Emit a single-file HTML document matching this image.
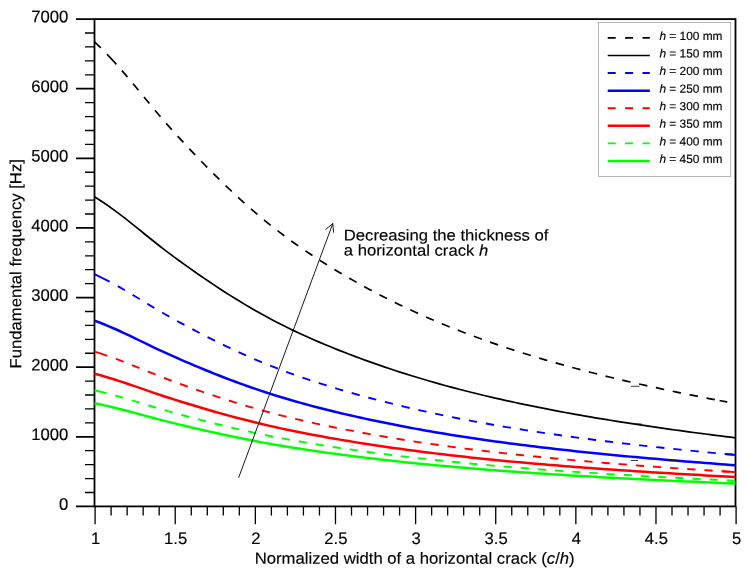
<!DOCTYPE html>
<html><head><meta charset="utf-8"><title>Fundamental frequency vs normalized crack width</title>
<style>html,body{margin:0;padding:0;background:#fff}svg{display:block}text{font-family:"Liberation Sans",Arial,sans-serif;fill:#000;text-rendering:geometricPrecision;stroke:#000;stroke-width:0.15px}.i{font-style:italic}</style></head><body>
<svg width="747" height="575" viewBox="0 0 747 575">
<rect width="747" height="575" fill="#fff"/>
<g stroke="#000" stroke-width="1.8" fill="none" stroke-linecap="butt">
<rect x="94.50" y="19.10" width="641.00" height="487.30"/>
<path d="M76 506.40 H94.50M76 436.79 H94.50M76 367.17 H94.50M76 297.56 H94.50M76 227.94 H94.50M76 158.33 H94.50M76 88.71 H94.50M76 19.10 H94.50"/>
</g>
<g stroke="#000" stroke-width="1.3" fill="none" stroke-linecap="butt">
<path d="M85 492.48 H94.50M85 478.55 H94.50M85 464.63 H94.50M85 450.71 H94.50M85 422.86 H94.50M85 408.94 H94.50M85 395.02 H94.50M85 381.09 H94.50M85 353.25 H94.50M85 339.33 H94.50M85 325.40 H94.50M85 311.48 H94.50M85 283.63 H94.50M85 269.71 H94.50M85 255.79 H94.50M85 241.87 H94.50M85 214.02 H94.50M85 200.10 H94.50M85 186.17 H94.50M85 172.25 H94.50M85 144.41 H94.50M85 130.48 H94.50M85 116.56 H94.50M85 102.64 H94.50M85 74.79 H94.50M85 60.87 H94.50M85 46.95 H94.50M85 33.02 H94.50M95.10 506.40 V524.20M111.12 506.40 V515.60M127.15 506.40 V515.60M143.18 506.40 V515.60M159.20 506.40 V515.60M175.22 506.40 V524.20M191.25 506.40 V515.60M207.28 506.40 V515.60M223.30 506.40 V515.60M239.32 506.40 V515.60M255.35 506.40 V524.20M271.38 506.40 V515.60M287.40 506.40 V515.60M303.42 506.40 V515.60M319.45 506.40 V515.60M335.48 506.40 V524.20M351.50 506.40 V515.60M367.53 506.40 V515.60M383.55 506.40 V515.60M399.58 506.40 V515.60M415.60 506.40 V524.20M431.63 506.40 V515.60M447.65 506.40 V515.60M463.68 506.40 V515.60M479.70 506.40 V515.60M495.73 506.40 V524.20M511.75 506.40 V515.60M527.77 506.40 V515.60M543.80 506.40 V515.60M559.83 506.40 V515.60M575.85 506.40 V524.20M591.87 506.40 V515.60M607.90 506.40 V515.60M623.93 506.40 V515.60M639.95 506.40 V515.60M655.98 506.40 V524.20M672.00 506.40 V515.60M688.03 506.40 V515.60M704.05 506.40 V515.60M720.08 506.40 V515.60M736.10 506.40 V524.20"/>
</g>
<g fill="none" stroke-linejoin="round">
<path d="M94.50 403.18 L99.51 404.24 L104.52 405.35 L109.52 406.51 L114.53 407.71 L119.54 408.95 L124.55 410.23 L129.55 411.55 L134.56 412.88 L139.57 414.23 L144.58 415.59 L149.59 416.94 L154.59 418.27 L159.60 419.59 L164.61 420.88 L169.62 422.14 L174.62 423.38 L179.63 424.60 L184.64 425.81 L189.65 426.99 L194.66 428.17 L199.66 429.33 L204.67 430.48 L209.68 431.61 L214.69 432.73 L219.70 433.83 L224.70 434.91 L229.71 435.97 L234.72 437.02 L239.73 438.05 L244.73 439.05 L249.74 440.04 L254.75 441.01 L259.76 441.95 L264.77 442.87 L269.77 443.77 L274.78 444.65 L279.79 445.51 L284.80 446.35 L289.80 447.17 L294.81 447.97 L299.82 448.75 L304.83 449.52 L309.84 450.27 L314.84 451.00 L319.85 451.72 L324.86 452.43 L329.87 453.12 L334.88 453.80 L339.88 454.47 L344.89 455.12 L349.90 455.76 L354.91 456.40 L359.91 457.02 L364.92 457.63 L369.93 458.23 L374.94 458.82 L379.95 459.40 L384.95 459.97 L389.96 460.53 L394.97 461.08 L399.98 461.62 L404.98 462.16 L409.99 462.68 L415.00 463.19 L420.01 463.70 L425.02 464.20 L430.02 464.68 L435.03 465.16 L440.04 465.63 L445.05 466.09 L450.05 466.55 L455.06 466.99 L460.07 467.43 L465.08 467.86 L470.09 468.28 L475.09 468.70 L480.10 469.11 L485.11 469.51 L490.12 469.90 L495.12 470.29 L500.13 470.67 L505.14 471.04 L510.15 471.41 L515.16 471.77 L520.16 472.13 L525.17 472.48 L530.18 472.83 L535.19 473.16 L540.20 473.50 L545.20 473.83 L550.21 474.15 L555.22 474.47 L560.23 474.79 L565.23 475.10 L570.24 475.40 L575.25 475.70 L580.26 476.00 L585.27 476.29 L590.27 476.58 L595.28 476.86 L600.29 477.14 L605.30 477.42 L610.30 477.69 L615.31 477.96 L620.32 478.23 L625.33 478.49 L630.34 478.75 L635.34 479.00 L640.35 479.25 L645.36 479.50 L650.37 479.75 L655.38 479.99 L660.38 480.23 L665.39 480.47 L670.40 480.71 L675.41 480.94 L680.41 481.17 L685.42 481.39 L690.43 481.62 L695.44 481.84 L700.45 482.06 L705.45 482.28 L710.46 482.49 L715.47 482.71 L720.48 482.92 L725.48 483.13 L730.49 483.33 L735.50 483.54" stroke="#0f0" stroke-width="2.5"/>
<path d="M94.50 390.28 L99.51 391.47 L104.52 392.72 L109.52 394.02 L114.53 395.37 L119.54 396.77 L124.55 398.21 L129.55 399.69 L134.56 401.19 L139.57 402.71 L144.58 404.24 L149.59 405.76 L154.59 407.26 L159.60 408.74 L164.61 410.18 L169.62 411.61 L174.62 413.00 L179.63 414.38 L184.64 415.73 L189.65 417.07 L194.66 418.39 L199.66 419.70 L204.67 420.99 L209.68 422.26 L214.69 423.52 L219.70 424.76 L224.70 425.97 L229.71 427.17 L234.72 428.35 L239.73 429.50 L244.73 430.64 L249.74 431.75 L254.75 432.83 L259.76 433.89 L264.77 434.93 L269.77 435.95 L274.78 436.93 L279.79 437.90 L284.80 438.84 L289.80 439.77 L294.81 440.67 L299.82 441.55 L304.83 442.41 L309.84 443.25 L314.84 444.08 L319.85 444.89 L324.86 445.68 L329.87 446.46 L334.88 447.22 L339.88 447.97 L344.89 448.71 L349.90 449.43 L354.91 450.14 L359.91 450.84 L364.92 451.53 L369.93 452.21 L374.94 452.87 L379.95 453.52 L384.95 454.17 L389.96 454.80 L394.97 455.42 L399.98 456.03 L404.98 456.63 L409.99 457.22 L415.00 457.79 L420.01 458.36 L425.02 458.92 L430.02 459.47 L435.03 460.01 L440.04 460.54 L445.05 461.06 L450.05 461.57 L455.06 462.07 L460.07 462.56 L465.08 463.04 L470.09 463.52 L475.09 463.98 L480.10 464.44 L485.11 464.89 L490.12 465.34 L495.12 465.77 L500.13 466.20 L505.14 466.62 L510.15 467.04 L515.16 467.44 L520.16 467.85 L525.17 468.24 L530.18 468.63 L535.19 469.01 L540.20 469.39 L545.20 469.76 L550.21 470.12 L555.22 470.48 L560.23 470.83 L565.23 471.18 L570.24 471.53 L575.25 471.86 L580.26 472.20 L585.27 472.53 L590.27 472.85 L595.28 473.17 L600.29 473.49 L605.30 473.80 L610.30 474.10 L615.31 474.41 L620.32 474.70 L625.33 475.00 L630.34 475.29 L635.34 475.58 L640.35 475.86 L645.36 476.14 L650.37 476.42 L655.38 476.69 L660.38 476.96 L665.39 477.23 L670.40 477.49 L675.41 477.75 L680.41 478.01 L685.42 478.27 L690.43 478.52 L695.44 478.77 L700.45 479.02 L705.45 479.26 L710.46 479.50 L715.47 479.74 L720.48 479.98 L725.48 480.22 L730.49 480.45 L735.50 480.68" stroke="#0f0" stroke-width="1.9" stroke-dasharray="12.4 8.95 8.3 8.905 8.3 8.905 8.3 8.905 8.3 8.905 8.3 8.905 8.3 8.905 8.3 8.905 8.3 8.905 8.3 8.905 8.3 8.905 8.3 8.905 8.3 8.905 8.3 8.905 8.3 8.905 8.3 8.905 8.3 8.905 8.3 8.905 8.3 8.905 8.3 8.905 8.3 8.905 8.3 8.905 8.3 8.905 8.3 8.905 8.3 8.905 8.3 8.905 8.3 8.905 8.3 8.905 8.3 8.905 8.3 8.905 8.3 8.905 8.3 8.905 8.3 8.905 8.3 8.905 8.3 8.905 8.3 8.905 8.3 8.905 8.3 8.905 8.3 8.905 8.3 8.905 8.3 8.905 8.3 8.905 8.3 8.905 8.3 8.905 8.3 8.905 8.3 8.905"/>
<path d="M94.50 373.69 L99.51 375.05 L104.52 376.48 L109.52 377.97 L114.53 379.51 L119.54 381.11 L124.55 382.76 L129.55 384.45 L134.56 386.17 L139.57 387.90 L144.58 389.64 L149.59 391.38 L154.59 393.10 L159.60 394.78 L164.61 396.44 L169.62 398.06 L174.62 399.66 L179.63 401.23 L184.64 402.78 L189.65 404.31 L194.66 405.82 L199.66 407.31 L204.67 408.79 L209.68 410.24 L214.69 411.68 L219.70 413.09 L224.70 414.48 L229.71 415.85 L234.72 417.20 L239.73 418.52 L244.73 419.81 L249.74 421.08 L254.75 422.32 L259.76 423.54 L264.77 424.72 L269.77 425.88 L274.78 427.01 L279.79 428.11 L284.80 429.19 L289.80 430.25 L294.81 431.28 L299.82 432.28 L304.83 433.27 L309.84 434.23 L314.84 435.18 L319.85 436.10 L324.86 437.01 L329.87 437.90 L334.88 438.77 L339.88 439.63 L344.89 440.47 L349.90 441.30 L354.91 442.11 L359.91 442.91 L364.92 443.69 L369.93 444.47 L374.94 445.22 L379.95 445.97 L384.95 446.70 L389.96 447.43 L394.97 448.14 L399.98 448.83 L404.98 449.52 L409.99 450.19 L415.00 450.85 L420.01 451.50 L425.02 452.14 L430.02 452.76 L435.03 453.38 L440.04 453.98 L445.05 454.58 L450.05 455.16 L455.06 455.73 L460.07 456.30 L465.08 456.85 L470.09 457.39 L475.09 457.93 L480.10 458.45 L485.11 458.96 L490.12 459.47 L495.12 459.97 L500.13 460.46 L505.14 460.94 L510.15 461.41 L515.16 461.88 L520.16 462.34 L525.17 462.79 L530.18 463.23 L535.19 463.67 L540.20 464.10 L545.20 464.52 L550.21 464.94 L555.22 465.35 L560.23 465.75 L565.23 466.15 L570.24 466.54 L575.25 466.93 L580.26 467.31 L585.27 467.69 L590.27 468.06 L595.28 468.42 L600.29 468.78 L605.30 469.14 L610.30 469.49 L615.31 469.84 L620.32 470.18 L625.33 470.51 L630.34 470.85 L635.34 471.17 L640.35 471.50 L645.36 471.82 L650.37 472.14 L655.38 472.45 L660.38 472.76 L665.39 473.06 L670.40 473.36 L675.41 473.66 L680.41 473.96 L685.42 474.25 L690.43 474.54 L695.44 474.82 L700.45 475.11 L705.45 475.39 L710.46 475.66 L715.47 475.94 L720.48 476.21 L725.48 476.48 L730.49 476.74 L735.50 477.01" stroke="#f00" stroke-width="2.5"/>
<path d="M94.50 351.57 L99.51 353.16 L104.52 354.82 L109.52 356.56 L114.53 358.36 L119.54 360.23 L124.55 362.15 L129.55 364.12 L134.56 366.13 L139.57 368.15 L144.58 370.18 L149.59 372.21 L154.59 374.21 L159.60 376.18 L164.61 378.11 L169.62 380.01 L174.62 381.87 L179.63 383.70 L184.64 385.51 L189.65 387.29 L194.66 389.05 L199.66 390.80 L204.67 392.52 L209.68 394.22 L214.69 395.89 L219.70 397.54 L224.70 399.17 L229.71 400.76 L234.72 402.33 L239.73 403.87 L244.73 405.38 L249.74 406.86 L254.75 408.31 L259.76 409.73 L264.77 411.11 L269.77 412.46 L274.78 413.78 L279.79 415.07 L284.80 416.32 L289.80 417.55 L294.81 418.75 L299.82 419.93 L304.83 421.08 L309.84 422.20 L314.84 423.31 L319.85 424.38 L324.86 425.44 L329.87 426.48 L334.88 427.50 L339.88 428.50 L344.89 429.48 L349.90 430.44 L354.91 431.39 L359.91 432.32 L364.92 433.24 L369.93 434.14 L374.94 435.03 L379.95 435.90 L384.95 436.76 L389.96 437.60 L394.97 438.42 L399.98 439.24 L404.98 440.04 L409.99 440.82 L415.00 441.59 L420.01 442.35 L425.02 443.09 L430.02 443.83 L435.03 444.54 L440.04 445.25 L445.05 445.94 L450.05 446.62 L455.06 447.29 L460.07 447.95 L465.08 448.59 L470.09 449.22 L475.09 449.85 L480.10 450.46 L485.11 451.06 L490.12 451.65 L495.12 452.23 L500.13 452.80 L505.14 453.36 L510.15 453.92 L515.16 454.46 L520.16 454.99 L525.17 455.52 L530.18 456.04 L535.19 456.55 L540.20 457.05 L545.20 457.54 L550.21 458.03 L555.22 458.51 L560.23 458.98 L565.23 459.44 L570.24 459.90 L575.25 460.35 L580.26 460.80 L585.27 461.24 L590.27 461.67 L595.28 462.09 L600.29 462.51 L605.30 462.93 L610.30 463.34 L615.31 463.74 L620.32 464.14 L625.33 464.53 L630.34 464.92 L635.34 465.30 L640.35 465.68 L645.36 466.06 L650.37 466.42 L655.38 466.79 L660.38 467.15 L665.39 467.51 L670.40 467.86 L675.41 468.21 L680.41 468.55 L685.42 468.89 L690.43 469.23 L695.44 469.56 L700.45 469.89 L705.45 470.22 L710.46 470.54 L715.47 470.86 L720.48 471.18 L725.48 471.49 L730.49 471.80 L735.50 472.11" stroke="#f00" stroke-width="1.9" stroke-dasharray="13.6 9 8.3 8.905 8.3 8.905 8.3 8.905 8.3 8.905 8.3 8.905 8.3 8.905 8.3 8.905 8.3 8.905 8.3 8.905 8.3 8.905 8.3 8.905 8.3 8.905 8.3 8.905 8.3 8.905 8.3 8.905 8.3 8.905 8.3 8.905 8.3 8.905 8.3 8.905 8.3 8.905 8.3 8.905 8.3 8.905 8.3 8.905 8.3 8.905 8.3 8.905 8.3 8.905 8.3 8.905 8.3 8.905 8.3 8.905 8.3 8.905 8.3 8.905 8.3 8.905 8.3 8.905 8.3 8.905 8.3 8.905 8.3 8.905 8.3 8.905 8.3 8.905 8.3 8.905 8.3 8.905 8.3 8.905 8.3 8.905 8.3 8.905 8.3 8.905 8.3 8.905"/>
<path d="M94.50 320.61 L99.51 322.51 L104.52 324.51 L109.52 326.59 L114.53 328.76 L119.54 331.00 L124.55 333.30 L129.55 335.66 L134.56 338.07 L139.57 340.50 L144.58 342.94 L149.59 345.37 L154.59 347.77 L159.60 350.14 L164.61 352.46 L169.62 354.73 L174.62 356.96 L179.63 359.16 L184.64 361.33 L189.65 363.47 L194.66 365.58 L199.66 367.67 L204.67 369.74 L209.68 371.78 L214.69 373.79 L219.70 375.77 L224.70 377.72 L229.71 379.63 L234.72 381.52 L239.73 383.37 L244.73 385.18 L249.74 386.95 L254.75 388.69 L259.76 390.39 L264.77 392.05 L269.77 393.67 L274.78 395.26 L279.79 396.80 L284.80 398.31 L289.80 399.78 L294.81 401.23 L299.82 402.63 L304.83 404.01 L309.84 405.36 L314.84 406.69 L319.85 407.98 L324.86 409.25 L329.87 410.50 L334.88 411.72 L339.88 412.92 L344.89 414.10 L349.90 415.25 L354.91 416.39 L359.91 417.51 L364.92 418.61 L369.93 419.69 L374.94 420.75 L379.95 421.80 L384.95 422.83 L389.96 423.84 L394.97 424.83 L399.98 425.80 L404.98 426.76 L409.99 427.70 L415.00 428.63 L420.01 429.54 L425.02 430.43 L430.02 431.31 L435.03 432.17 L440.04 433.02 L445.05 433.85 L450.05 434.67 L455.06 435.47 L460.07 436.26 L465.08 437.03 L470.09 437.79 L475.09 438.54 L480.10 439.27 L485.11 439.99 L490.12 440.70 L495.12 441.40 L500.13 442.08 L505.14 442.76 L510.15 443.42 L515.16 444.07 L520.16 444.71 L525.17 445.34 L530.18 445.97 L535.19 446.58 L540.20 447.18 L545.20 447.77 L550.21 448.35 L555.22 448.93 L560.23 449.50 L565.23 450.05 L570.24 450.60 L575.25 451.14 L580.26 451.68 L585.27 452.20 L590.27 452.72 L595.28 453.23 L600.29 453.74 L605.30 454.23 L610.30 454.73 L615.31 455.21 L620.32 455.69 L625.33 456.16 L630.34 456.62 L635.34 457.08 L640.35 457.54 L645.36 457.99 L650.37 458.43 L655.38 458.87 L660.38 459.30 L665.39 459.73 L670.40 460.15 L675.41 460.57 L680.41 460.98 L685.42 461.39 L690.43 461.79 L695.44 462.19 L700.45 462.59 L705.45 462.98 L710.46 463.37 L715.47 463.75 L720.48 464.13 L725.48 464.51 L730.49 464.88 L735.50 465.25" stroke="#00f" stroke-width="2.5"/>
<path d="M94.50 274.16 L99.51 276.54 L104.52 279.03 L109.52 281.64 L114.53 284.35 L119.54 287.14 L124.55 290.03 L129.55 292.98 L134.56 295.99 L139.57 299.03 L144.58 302.08 L149.59 305.11 L154.59 308.12 L159.60 311.07 L164.61 313.97 L169.62 316.81 L174.62 319.60 L179.63 322.35 L184.64 325.06 L189.65 327.74 L194.66 330.38 L199.66 332.99 L204.67 335.57 L209.68 338.12 L214.69 340.64 L219.70 343.11 L224.70 345.55 L229.71 347.94 L234.72 350.30 L239.73 352.61 L244.73 354.87 L249.74 357.09 L254.75 359.26 L259.76 361.39 L264.77 363.46 L269.77 365.49 L274.78 367.47 L279.79 369.40 L284.80 371.29 L289.80 373.13 L294.81 374.93 L299.82 376.69 L304.83 378.42 L309.84 380.11 L314.84 381.76 L319.85 383.38 L324.86 384.96 L329.87 386.52 L334.88 388.05 L339.88 389.55 L344.89 391.02 L349.90 392.47 L354.91 393.89 L359.91 395.29 L364.92 396.66 L369.93 398.01 L374.94 399.34 L379.95 400.65 L384.95 401.93 L389.96 403.20 L394.97 404.44 L399.98 405.66 L404.98 406.85 L409.99 408.03 L415.00 409.19 L420.01 410.32 L425.02 411.44 L430.02 412.54 L435.03 413.61 L440.04 414.67 L445.05 415.71 L450.05 416.73 L455.06 417.73 L460.07 418.72 L465.08 419.69 L470.09 420.64 L475.09 421.57 L480.10 422.49 L485.11 423.39 L490.12 424.27 L495.12 425.15 L500.13 426.00 L505.14 426.85 L510.15 427.67 L515.16 428.49 L520.16 429.29 L525.17 430.08 L530.18 430.86 L535.19 431.62 L540.20 432.37 L545.20 433.11 L550.21 433.84 L555.22 434.56 L560.23 435.27 L565.23 435.97 L570.24 436.65 L575.25 437.33 L580.26 438.00 L585.27 438.65 L590.27 439.30 L595.28 439.94 L600.29 440.57 L605.30 441.19 L610.30 441.81 L615.31 442.41 L620.32 443.01 L625.33 443.60 L630.34 444.18 L635.34 444.76 L640.35 445.32 L645.36 445.88 L650.37 446.44 L655.38 446.98 L660.38 447.53 L665.39 448.06 L670.40 448.59 L675.41 449.11 L680.41 449.63 L685.42 450.14 L690.43 450.64 L695.44 451.14 L700.45 451.64 L705.45 452.13 L710.46 452.61 L715.47 453.09 L720.48 453.56 L725.48 454.03 L730.49 454.50 L735.50 454.96" stroke="#00f" stroke-width="1.9" stroke-dasharray="17 9.2 8.3 8.905 8.3 8.905 8.3 8.905 8.3 8.905 8.3 8.905 8.3 8.905 8.3 8.905 8.3 8.905 8.3 8.905 8.3 8.905 8.3 8.905 8.3 8.905 8.3 8.905 8.3 8.905 8.3 8.905 8.3 8.905 8.3 8.905 8.3 8.905 8.3 8.905 8.3 8.905 8.3 8.905 8.3 8.905 8.3 8.905 8.3 8.905 8.3 8.905 8.3 8.905 8.3 8.905 8.3 8.905 8.3 8.905 8.3 8.905 8.3 8.905 8.3 8.905 8.3 8.905 8.3 8.905 8.3 8.905 8.3 8.905 8.3 8.905 8.3 8.905 8.3 8.905 8.3 8.905 8.3 8.905 8.3 8.905 8.3 8.905 8.3 8.905 8.3 8.905"/>
<path d="M94.50 196.75 L99.51 199.92 L104.52 203.25 L109.52 206.72 L114.53 210.33 L119.54 214.06 L124.55 217.90 L129.55 221.84 L134.56 225.85 L139.57 229.90 L144.58 233.97 L149.59 238.02 L154.59 242.02 L159.60 245.96 L164.61 249.83 L169.62 253.61 L174.62 257.34 L179.63 261.00 L184.64 264.62 L189.65 268.18 L194.66 271.71 L199.66 275.19 L204.67 278.63 L209.68 282.03 L214.69 285.38 L219.70 288.68 L224.70 291.93 L229.71 295.12 L234.72 298.26 L239.73 301.34 L244.73 304.36 L249.74 307.32 L254.75 310.22 L259.76 313.05 L264.77 315.82 L269.77 318.52 L274.78 321.16 L279.79 323.73 L284.80 326.25 L289.80 328.71 L294.81 331.11 L299.82 333.46 L304.83 335.76 L309.84 338.01 L314.84 340.21 L319.85 342.37 L324.86 344.49 L329.87 346.56 L334.88 348.60 L339.88 350.60 L344.89 352.56 L349.90 354.49 L354.91 356.39 L359.91 358.25 L364.92 360.08 L369.93 361.89 L374.94 363.66 L379.95 365.40 L384.95 367.11 L389.96 368.79 L394.97 370.45 L399.98 372.07 L404.98 373.67 L409.99 375.24 L415.00 376.78 L420.01 378.30 L425.02 379.79 L430.02 381.25 L435.03 382.69 L440.04 384.10 L445.05 385.48 L450.05 386.84 L455.06 388.18 L460.07 389.49 L465.08 390.78 L470.09 392.05 L475.09 393.29 L480.10 394.52 L485.11 395.72 L490.12 396.90 L495.12 398.06 L500.13 399.20 L505.14 400.33 L510.15 401.43 L515.16 402.52 L520.16 403.59 L525.17 404.64 L530.18 405.68 L535.19 406.69 L540.20 407.70 L545.20 408.69 L550.21 409.66 L555.22 410.62 L560.23 411.56 L565.23 412.49 L570.24 413.40 L575.25 414.31 L580.26 415.20 L585.27 416.07 L590.27 416.94 L595.28 417.79 L600.29 418.63 L605.30 419.46 L610.30 420.28 L615.31 421.08 L620.32 421.88 L625.33 422.67 L630.34 423.44 L635.34 424.21 L640.35 424.96 L645.36 425.71 L650.37 426.45 L655.38 427.18 L660.38 427.90 L665.39 428.61 L670.40 429.32 L675.41 430.01 L680.41 430.70 L685.42 431.38 L690.43 432.06 L695.44 432.72 L700.45 433.38 L705.45 434.03 L710.46 434.68 L715.47 435.32 L720.48 435.95 L725.48 436.58 L730.49 437.20 L735.50 437.81" stroke="#000" stroke-width="1.7"/>
<path d="M94.50 41.92 L99.51 46.68 L104.52 51.67 L109.52 56.88 L114.53 62.29 L119.54 67.89 L124.55 73.65 L129.55 79.56 L134.56 85.58 L139.57 91.66 L144.58 97.75 L149.59 103.82 L154.59 109.83 L159.60 115.74 L164.61 121.54 L169.62 127.22 L174.62 132.81 L179.63 138.31 L184.64 143.72 L189.65 149.07 L194.66 154.36 L199.66 159.59 L204.67 164.75 L209.68 169.85 L214.69 174.87 L219.70 179.82 L224.70 184.70 L229.71 189.49 L234.72 194.19 L239.73 198.81 L244.73 203.34 L249.74 207.78 L254.75 212.13 L259.76 216.38 L264.77 220.53 L269.77 224.58 L274.78 228.54 L279.79 232.40 L284.80 236.17 L289.80 239.86 L294.81 243.46 L299.82 246.99 L304.83 250.44 L309.84 253.81 L314.84 257.12 L319.85 260.35 L324.86 263.53 L329.87 266.64 L334.88 269.70 L339.88 272.70 L344.89 275.64 L349.90 278.53 L354.91 281.38 L359.91 284.17 L364.92 286.92 L369.93 289.63 L374.94 292.29 L379.95 294.90 L384.95 297.47 L389.96 299.99 L394.97 302.47 L399.98 304.91 L404.98 307.31 L409.99 309.66 L415.00 311.98 L420.01 314.25 L425.02 316.48 L430.02 318.68 L435.03 320.83 L440.04 322.95 L445.05 325.02 L450.05 327.07 L455.06 329.07 L460.07 331.04 L465.08 332.97 L470.09 334.87 L475.09 336.74 L480.10 338.57 L485.11 340.38 L490.12 342.15 L495.12 343.89 L500.13 345.61 L505.14 347.29 L510.15 348.95 L515.16 350.58 L520.16 352.18 L525.17 353.76 L530.18 355.31 L535.19 356.84 L540.20 358.35 L545.20 359.83 L550.21 361.29 L555.22 362.72 L560.23 364.14 L565.23 365.53 L570.24 366.91 L575.25 368.26 L580.26 369.59 L585.27 370.91 L590.27 372.20 L595.28 373.48 L600.29 374.74 L605.30 375.99 L610.30 377.21 L615.31 378.42 L620.32 379.62 L625.33 380.80 L630.34 381.96 L635.34 383.11 L640.35 384.25 L645.36 385.37 L650.37 386.47 L655.38 387.57 L660.38 388.65 L665.39 389.72 L670.40 390.78 L675.41 391.82 L680.41 392.85 L685.42 393.87 L690.43 394.88 L695.44 395.88 L700.45 396.87 L705.45 397.85 L710.46 398.82 L715.47 399.78 L720.48 400.73 L725.48 401.67 L727.30 402.00" stroke="#000" stroke-width="1.7" stroke-dasharray="8.7 8.9 13.7 8.4 8.5 8.71 8.5 8.71 8.5 8.71 8.5 8.71 8.5 8.71 8.5 8.71 8.5 8.71 8.5 8.71 8.5 8.71 8.5 8.71 8.5 8.71 8.5 8.71 8.5 8.71 8.5 8.71 8.5 8.71 8.5 8.71 8.5 8.71 8.5 8.71 8.5 8.71 8.5 8.71 8.5 8.71 8.5 8.71 8.5 8.71 8.5 8.71 8.5 8.71 8.5 8.71 8.5 8.71 8.5 8.71 8.5 8.71 8.5 8.71 8.5 8.71 8.5 8.71 8.5 8.71 8.5 8.71 8.5 8.71 8.5 8.71 8.5 8.71 8.5 8.71 8.5 8.71 8.5 8.71 8.5 4.9 30 0"/>
<path d="M725.00 453.99 L727.10 454.18 L729.20 454.38 L731.30 454.57 L733.40 454.77 L735.50 454.96" stroke="#00f" stroke-width="1.9"/>
<path d="M721.90 471.26 L724.62 471.43 L727.34 471.60 L730.06 471.77 L732.78 471.94 L735.50 472.11" stroke="#f00" stroke-width="1.9"/>
</g>
<g stroke="#111" stroke-width="0.8"><path d="M631 386.3H639.5M635 423.9H641.6M631 460.5H638M668 460.5H677"/></g>
<g font-size="16.67">
<text transform="translate(68.3 509.65) rotate(0.03)" text-anchor="end">0</text>
<text transform="translate(68.3 440.04) rotate(0.03)" text-anchor="end">1000</text>
<text transform="translate(68.3 370.42) rotate(0.03)" text-anchor="end">2000</text>
<text transform="translate(68.3 300.81) rotate(0.03)" text-anchor="end">3000</text>
<text transform="translate(68.3 231.19) rotate(0.03)" text-anchor="end">4000</text>
<text transform="translate(68.3 161.58) rotate(0.03)" text-anchor="end">5000</text>
<text transform="translate(68.3 91.96) rotate(0.03)" text-anchor="end">6000</text>
<text transform="translate(68.3 22.35) rotate(0.03)" text-anchor="end">7000</text>
<text transform="translate(95.50 544.1) rotate(0.03)" text-anchor="middle">1</text>
<text transform="translate(175.62 544.1) rotate(0.03)" text-anchor="middle">1.5</text>
<text transform="translate(255.75 544.1) rotate(0.03)" text-anchor="middle">2</text>
<text transform="translate(335.88 544.1) rotate(0.03)" text-anchor="middle">2.5</text>
<text transform="translate(416.00 544.1) rotate(0.03)" text-anchor="middle">3</text>
<text transform="translate(496.12 544.1) rotate(0.03)" text-anchor="middle">3.5</text>
<text transform="translate(576.25 544.1) rotate(0.03)" text-anchor="middle">4</text>
<text transform="translate(656.38 544.1) rotate(0.03)" text-anchor="middle">4.5</text>
<text transform="translate(736.50 544.1) rotate(0.03)" text-anchor="middle">5</text>
<text transform="translate(254.7 563.7) rotate(0.03) scale(1 0.965)" font-size="16.71">Normalized width of a horizontal crack (<tspan class="i">c</tspan>/<tspan class="i">h</tspan>)</text>
<text transform="translate(21.3 368.4) rotate(-90.03) scale(1 0.97)" font-size="16.67">Fundamental frequency [Hz]</text>
<text transform="translate(343.8 240.5) rotate(0.03) scale(1 0.94)">Decreasing the thickness of</text>
<text transform="translate(343.8 255.6) rotate(0.03) scale(1 0.94)">a horizontal crack <tspan class="i">h</tspan></text>
</g>
<g stroke="#000" stroke-width="0.9" fill="none"><path d="M238.6 477.8L332.8 223.5M325.4 229.8L332.8 223.5L333.6 232.7"/></g>
<rect x="598.4" y="22.4" width="132.3" height="154" fill="#fff" stroke="#999" stroke-width="0.7"/>
<g font-size="11.9">
<path d="M607.7 37.90H649.8" stroke="#000" stroke-width="1.7" stroke-dasharray="8 9.4" fill="none"/>
<text transform="translate(659.4 39.90) rotate(0.03)"><tspan class="i">h</tspan> = 100 mm</text>
<path d="M607.7 55.48H649.8" stroke="#000" stroke-width="1.7" fill="none"/>
<text transform="translate(659.4 57.48) rotate(0.03)"><tspan class="i">h</tspan> = 150 mm</text>
<path d="M607.7 73.06H649.8" stroke="#00f" stroke-width="1.9" stroke-dasharray="8 9.4" fill="none"/>
<text transform="translate(659.4 75.06) rotate(0.03)"><tspan class="i">h</tspan> = 200 mm</text>
<path d="M607.7 90.64H649.8" stroke="#00f" stroke-width="2.5" fill="none"/>
<text transform="translate(659.4 92.64) rotate(0.03)"><tspan class="i">h</tspan> = 250 mm</text>
<path d="M607.7 108.22H649.8" stroke="#f00" stroke-width="1.9" stroke-dasharray="8 9.4" fill="none"/>
<text transform="translate(659.4 110.22) rotate(0.03)"><tspan class="i">h</tspan> = 300 mm</text>
<path d="M607.7 125.80H649.8" stroke="#f00" stroke-width="2.5" fill="none"/>
<text transform="translate(659.4 127.80) rotate(0.03)"><tspan class="i">h</tspan> = 350 mm</text>
<path d="M607.7 143.38H649.8" stroke="#0f0" stroke-width="1.9" stroke-dasharray="8 9.4" fill="none"/>
<text transform="translate(659.4 145.38) rotate(0.03)"><tspan class="i">h</tspan> = 400 mm</text>
<path d="M607.7 160.96H649.8" stroke="#0f0" stroke-width="2.5" fill="none"/>
<text transform="translate(659.4 162.96) rotate(0.03)"><tspan class="i">h</tspan> = 450 mm</text>
</g>
</svg></body></html>
